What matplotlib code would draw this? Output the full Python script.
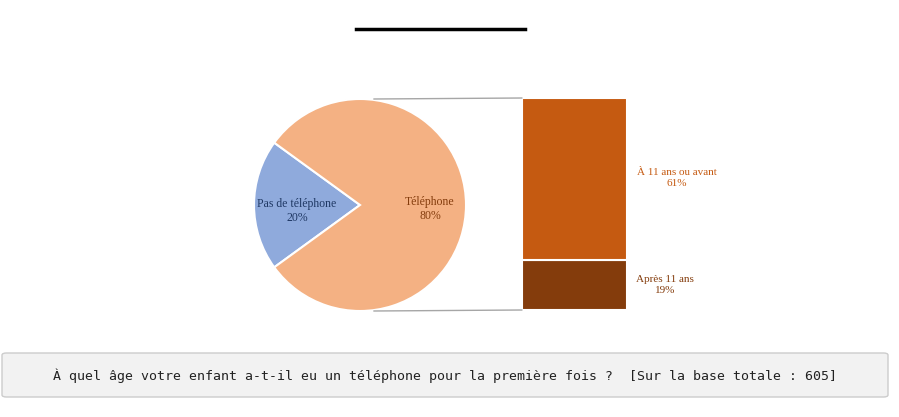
import matplotlib
matplotlib.use("Agg")
import matplotlib.pyplot as plt
from matplotlib.patches import ConnectionPatch, FancyBboxPatch
from matplotlib.lines import Line2D

pie_labels = ["Pas de téléphone", "Téléphone"]
pie_values = [20, 80]
bar_labels = ["Après 11 ans", "À 11 ans ou avant"]
bar_values = [19, 61]

W, H = 899, 417
fig = plt.figure(figsize=(W/100, H/100), dpi=100)
fig.patch.set_facecolor("white")
serif = "Liberation Serif"

def fx(x): return x / W
def fy(y): return 1 - y / H

# title line
fig.add_artist(Line2D([fx(356), fx(525)], [fy(29), fy(29)], color="black", lw=2.5))

# pie
axp = fig.add_axes([fx(254), fy(311), 212/W, 212/H])
wedges, _ = axp.pie(pie_values, colors=["#8FAADC", "#F4B183"], startangle=144,
                    counterclock=True, radius=1,
                    wedgeprops=dict(edgecolor="white", linewidth=1.5))
axp.set_xlim(-1, 1); axp.set_ylim(-1, 1)
axp.set_aspect("auto")
fig.text(fx(297), fy(211), f"{pie_labels[0]}\n{pie_values[0]}%", ha="center", va="center",
         fontsize=8.5, family=serif, color="#1F3864")
fig.text(fx(430), fy(209), f"{pie_labels[1]}\n{pie_values[1]}%", ha="center", va="center",
         fontsize=8.5, family=serif, color="#843C0C")

# bar
axb = fig.add_axes([fx(522), fy(310), 105/W, 212/H])
bcols = ["#843C0C", "#C55A11"]
bottom = 0
for v, c in zip(bar_values, bcols):
    axb.bar(0, v, bottom=bottom, width=1, color=c, edgecolor="white", linewidth=1.5)
    bottom += v
axb.set_xlim(-0.5, 0.5); axb.set_ylim(0, sum(bar_values))
axb.axis("off")
fig.text(fx(677), fy(178), f"{bar_labels[1]}\n{bar_values[1]}%", ha="center", va="center",
         fontsize=8, family=serif, color="#C55A11")
fig.text(fx(665), fy(285), f"{bar_labels[0]}\n{bar_values[0]}%", ha="center", va="center",
         fontsize=8, family=serif, color="#843C0C")

# connectors
for yp, yb in [(1, sum(bar_values)), (-1, 0)]:
    cp = ConnectionPatch(xyA=(0.13, yp), coordsA=axp.transData,
                         xyB=(-0.5, yb), coordsB=axb.transData,
                         color="#A6A6A6", lw=1)
    fig.add_artist(cp)

# bottom box
box = FancyBboxPatch((fx(2), fy(397)), fx(886), (397-353)/H, boxstyle="round,pad=0,rounding_size=0.005",
                     transform=fig.transFigure, facecolor="#F2F2F2", edgecolor="#CCCCCC", lw=1)
fig.add_artist(box)
fig.text(fx(445), fy(376), "À quel âge votre enfant a-t-il eu un téléphone pour la première fois ?  [Sur la base totale : 605]",
         ha="center", va="center", fontsize=9.5, family="DejaVu Sans Mono", color="#222222")

fig.savefig("out.png", dpi=100)
